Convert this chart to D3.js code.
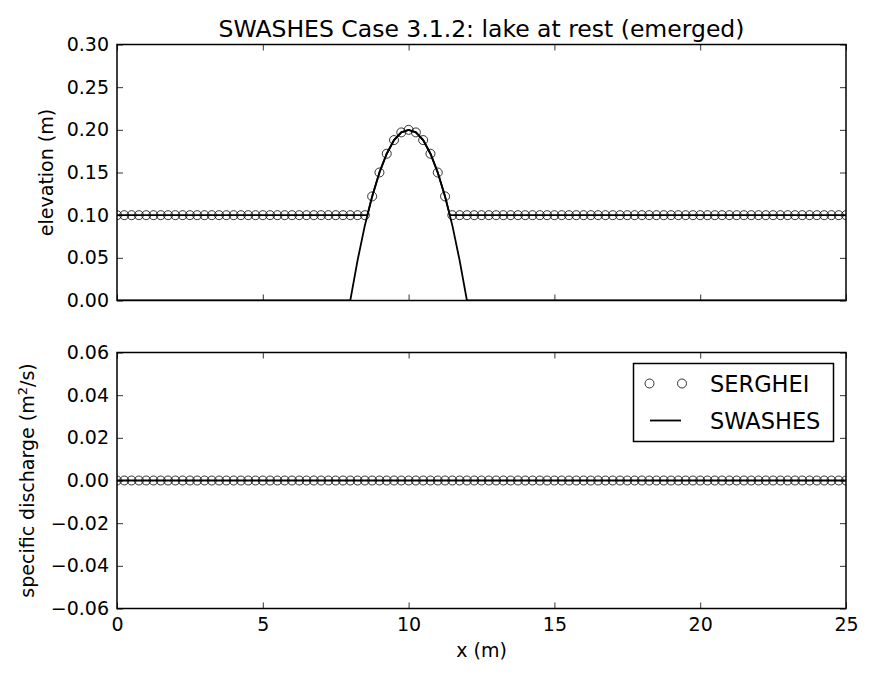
<!DOCTYPE html>
<html>
<head>
<meta charset="utf-8">
<script src="https://cdn.jsdelivr.net/npm/d3@7"></script>
<style>
    body { margin: 0; background: #fff; }
    svg { display: block; font-family: "DejaVu Sans", sans-serif; }
</style>
</head>
<body>
<script>
// tick values
const xTicks = [0, 5, 10, 15, 20, 25];
const elevTicks = [0.00, 0.05, 0.10, 0.15, 0.20, 0.25, 0.30];
const qTicks = [-0.06, -0.04, -0.02, 0.00, 0.02, 0.04, 0.06];

// SERGHEI output points (x every 0.25 m)
const sergheiX = d3.range(0, 25.0001, 0.25);
const sergheiElev = [
    0.10, 0.10, 0.10, 0.10, 0.10, 0.10, 0.10, 0.10, 0.10, 0.10,
    0.10, 0.10, 0.10, 0.10, 0.10, 0.10, 0.10, 0.10, 0.10, 0.10,
    0.10, 0.10, 0.10, 0.10, 0.10, 0.10, 0.10, 0.10, 0.10, 0.10,
    0.10, 0.10, 0.10, 0.10, 0.10,
    0.122, 0.150, 0.172, 0.188, 0.197, 0.200, 0.197, 0.188, 0.172, 0.150, 0.122,
    0.10, 0.10, 0.10, 0.10, 0.10, 0.10, 0.10, 0.10, 0.10, 0.10,
    0.10, 0.10, 0.10, 0.10, 0.10, 0.10, 0.10, 0.10, 0.10, 0.10,
    0.10, 0.10, 0.10, 0.10, 0.10, 0.10, 0.10, 0.10, 0.10, 0.10,
    0.10, 0.10, 0.10, 0.10, 0.10, 0.10, 0.10, 0.10, 0.10, 0.10,
    0.10, 0.10, 0.10, 0.10, 0.10, 0.10, 0.10, 0.10, 0.10, 0.10,
    0.10, 0.10, 0.10, 0.10, 0.10
];
const sergheiQ = [
    0, 0, 0, 0, 0, 0, 0, 0, 0, 0, 0, 0, 0, 0, 0, 0, 0, 0, 0, 0,
    0, 0, 0, 0, 0, 0, 0, 0, 0, 0, 0, 0, 0, 0, 0, 0, 0, 0, 0, 0,
    0, 0, 0, 0, 0, 0, 0, 0, 0, 0, 0, 0, 0, 0, 0, 0, 0, 0, 0, 0,
    0, 0, 0, 0, 0, 0, 0, 0, 0, 0, 0, 0, 0, 0, 0, 0, 0, 0, 0, 0,
    0, 0, 0, 0, 0, 0, 0, 0, 0, 0, 0, 0, 0, 0, 0, 0, 0, 0, 0, 0,
    0
];

// SWASHES analytic solution: bed and free surface
const bedX = [0, 8, 8.25, 8.5, 8.75, 9, 9.25, 9.5, 9.75, 10, 10.25, 10.5, 10.75, 11, 11.25, 11.5, 11.75, 12, 25];
const bedZ = [0, 0, 0.047, 0.088, 0.122, 0.150, 0.172, 0.188, 0.197, 0.200, 0.197, 0.188, 0.172, 0.150, 0.122, 0.088, 0.047, 0, 0];
const surfX = [0, 8.586, 8.75, 9, 9.25, 9.5, 9.75, 10, 10.25, 10.5, 10.75, 11, 11.25, 11.414, 25];
const surfZ = [0.10, 0.10, 0.122, 0.150, 0.172, 0.188, 0.197, 0.200, 0.197, 0.188, 0.172, 0.150, 0.122, 0.10, 0.10];
const qLineX = [0, 25];
const qLineY = [0, 0];

const W = 874, H = 678;
const left = 117, right = 846;
const FS = 19;
const minus = d => d3.format('.2f')(d).replace('-', '\u2212');
const panels = [
    {top: 44.5, bottom: 300.5, ticks: elevTicks, label: 'elevation (m)', labelX: 53},
    {top: 352.5, bottom: 608.5, ticks: qTicks, label: 'specific discharge', labelX: 34},
];

const svg = d3.select('body').append('svg')
    .attr('width', W)
    .attr('height', H)
    .attr('viewBox', `0 0 ${W} ${H}`);

const x = d3.scaleLinear().domain([0, 25]).range([left, right]);

function drawPanel(p, i) {
    const y = d3.scaleLinear()
        .domain([p.ticks[0], p.ticks[p.ticks.length - 1]])
        .range([p.bottom, p.top]);
    const g = svg.append('g');
    const clipId = `clip${i}`;
    svg.append('clipPath').attr('id', clipId)
        .append('rect')
        .attr('x', left).attr('y', p.top)
        .attr('width', right - left).attr('height', p.bottom - p.top);

    // inward ticks on all four sides
    const tickLen = 6;
    const ax = (axis, tr) => g.append('g')
        .attr('transform', tr)
        .call(axis)
        .call(s => s.select('.domain').remove())
        .call(s => s.selectAll('line').attr('stroke', '#000').attr('stroke-width', 0.8))
        .call(s => s.selectAll('text')
            .attr('font-family', '"DejaVu Sans", sans-serif')
            .attr('font-size', FS)
            .attr('fill', '#000'));
    ax(d3.axisBottom(x).tickValues(xTicks).tickSize(-tickLen).tickPadding(9)
        .tickFormat(i === 1 ? d3.format('d') : ''), `translate(0,${p.bottom})`);
    ax(d3.axisTop(x).tickValues(xTicks).tickSize(-tickLen).tickFormat(''), `translate(0,${p.top})`);
    ax(d3.axisLeft(y).tickValues(p.ticks).tickSize(-tickLen).tickPadding(8).tickFormat(minus),
        `translate(${left},0)`)
        .selectAll('text').attr('x', -8);
    ax(d3.axisRight(y).tickValues(p.ticks).tickSize(-tickLen).tickFormat(''), `translate(${right},0)`);

    // data
    const line = d3.line().x(d => x(d[0])).y(d => y(d[1]));
    const lines = i === 0
        ? [d3.zip(bedX, bedZ), d3.zip(surfX, surfZ)]
        : [d3.zip(qLineX, qLineY)];
    const vals = i === 0 ? sergheiElev : sergheiQ;
    const plot = g.append('g').attr('clip-path', `url(#${clipId})`);
    plot.selectAll('path.swashes')
        .data(lines)
        .enter().append('path')
        .attr('class', 'swashes')
        .attr('d', line)
        .attr('fill', 'none')
        .attr('stroke', '#000')
        .attr('stroke-width', 1.8);
    plot.selectAll('circle')
        .data(d3.zip(sergheiX, vals))
        .enter().append('circle')
        .attr('cx', d => x(d[0]))
        .attr('cy', d => y(d[1]))
        .attr('r', 4.5)
        .attr('fill', 'none')
        .attr('stroke', '#000')
        .attr('stroke-width', 0.8);

    // frame
    g.append('rect')
        .attr('x', left).attr('y', p.top)
        .attr('width', right - left).attr('height', p.bottom - p.top)
        .attr('fill', 'none')
        .attr('stroke', '#000')
        .attr('stroke-width', 1.5);

    // y label
    const lab = svg.append('text')
        .attr('transform', `translate(${p.labelX},${(p.top + p.bottom) / 2}) rotate(-90)`)
        .attr('text-anchor', 'middle')
        .attr('font-size', FS)
        .text(p.label);
    if (i === 1) {
        lab.append('tspan').text(' (m');
        lab.append('tspan').attr('font-size', 13).attr('dy', -7).text('2');
        lab.append('tspan').attr('dy', 7).text('/s)');
    }
    return y;
}

panels.forEach(drawPanel);

// title and x label
svg.append('text')
    .attr('x', (left + right) / 2).attr('y', 37)
    .attr('text-anchor', 'middle')
    .attr('font-size', 23.5)
    .text('SWASHES Case 3.1.2: lake at rest (emerged)');
svg.append('text')
    .attr('x', (left + right) / 2).attr('y', 657)
    .attr('text-anchor', 'middle')
    .attr('font-size', FS)
    .text('x (m)');

// legend
const leg = svg.append('g');
leg.append('rect')
    .attr('x', 633.5).attr('y', 363.5)
    .attr('width', 200).attr('height', 78)
    .attr('fill', '#fff')
    .attr('stroke', '#000')
    .attr('stroke-width', 1.5);
leg.selectAll('circle')
    .data([649.5, 682])
    .enter().append('circle')
    .attr('cx', d => d).attr('cy', 383.5)
    .attr('r', 4.5)
    .attr('fill', 'none')
    .attr('stroke', '#000')
    .attr('stroke-width', 0.8);
leg.append('line')
    .attr('x1', 650).attr('x2', 681)
    .attr('y1', 420.5).attr('y2', 420.5)
    .attr('stroke', '#000')
    .attr('stroke-width', 1.8);
leg.selectAll('text')
    .data([['SERGHEI', 391.5], ['SWASHES', 428.5]])
    .enter().append('text')
    .attr('x', 710).attr('y', d => d[1])
    .attr('font-size', 22.5)
    .text(d => d[0]);
</script>
</body>
</html>
